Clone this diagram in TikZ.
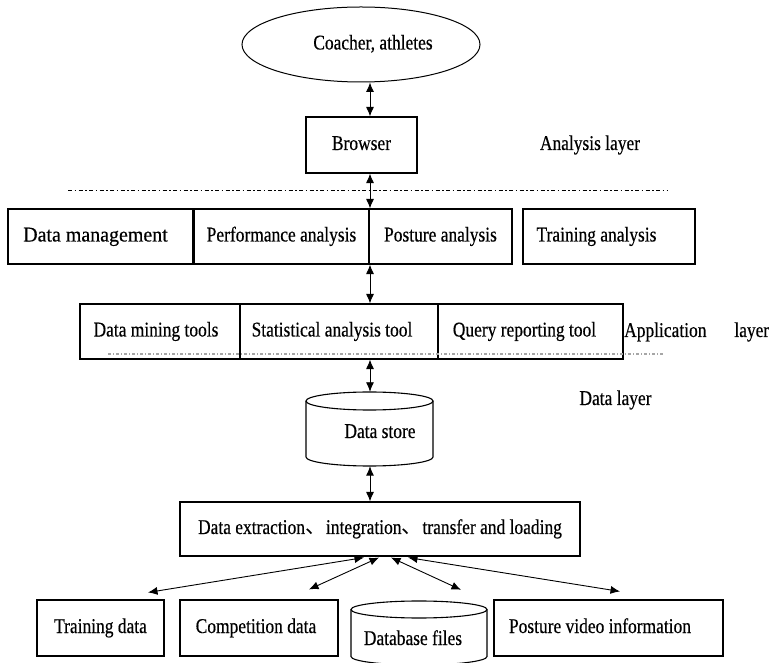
\documentclass[tikz,border=0pt]{standalone}
\usepackage{fontspec}
\setmainfont{Liberation Serif}[FakeStretch=0.83,FakeBold=0.4]
\newfontfamily\cjk{Noto Sans CJK SC}
\newfontfamily\widefont{Liberation Serif}[FakeStretch=0.95,FakeBold=0.4]
\usetikzlibrary{arrows.meta,shapes.geometric}
\newcommand{\drawcyl}[5]{% left right top bottom yradius
  \pgfmathsetmacro\cylcx{(#1+#2)/2}%
  \pgfmathsetmacro\cylrx{(#2-#1)/2}%
  \draw[line width=1.1pt] (\cylcx,#3-#5) ellipse[x radius=\cylrx, y radius=#5];
  \draw[line width=1.1pt] (#1,#3-#5) -- (#1,#4+#5)
    arc[start angle=180, end angle=360, x radius=\cylrx, y radius=#5] -- (#2,#3-#5);
}
\begin{document}
\begin{tikzpicture}[x=1pt,y=1pt,
  font=\fontsize{21}{24}\selectfont,
  box/.style={draw, line width=1.1pt, inner sep=0pt, minimum height=55pt,
              text height=14pt, text depth=4pt},
  link/.style={arrows={Latex[length=9.5pt,width=8pt]-Latex[length=9.5pt,width=8pt]}, line width=0.9pt},
  lbl/.style={inner sep=0pt, text height=14pt, text depth=4pt}]
\clip (0,0) rectangle (769,662);
\fill[white] (0,0) rectangle (769,662);

\coordinate (ax) at (370,0);

% top
\node[ellipse, draw, line width=1pt, minimum width=238pt, minimum height=75pt,
      inner sep=0pt, text height=14pt, text depth=4pt] (coach) at (361,617.5)
      {\hspace*{24pt}Coacher, athletes};
\node[box, minimum width=111pt, minimum height=56pt] (browser) at (361.5,517) {Browser};
\node[lbl] (albl) at (590,517) {Analysis layer};
\draw[link] (coach.south -| ax) -- (browser.north -| ax);

\draw[line width=1pt, dash pattern=on 4pt off 2.5pt on 1.5pt off 2.5pt] (68,471.5) -- (667,471.5);

% analysis row
\node[box, minimum width=185pt] (dm) at (100.5,425.5) {\widefont Data management\hspace*{10pt}};
\node[box, minimum width=175pt] (perf) at (281.5,425.5) {Performance analysis};
\node[box, minimum width=143pt] (post) at (440.5,425.5) {Posture analysis};
\node[box, minimum width=172pt] (tra) at (609,425.5) {Training analysis\hspace*{25pt}};
\draw[link] (browser.south -| ax) -- (post.north -| ax);

% application row
\node[box, minimum width=160pt] (mine) at (160,330.5) {Data mining tools\hspace*{8pt}};
\node[box, minimum width=198pt] (stat) at (339,330.5) {Statistical analysis tool\hspace*{14pt}};
\node[box, minimum width=185pt] (query) at (530.5,330.5) {Query reporting tool\hspace*{12pt}};
\draw[link] (post.south -| ax) -- (stat.north -| ax);
\draw[gray!70, line width=1.3pt, dash pattern=on 3pt off 2pt on 1pt off 2pt] (108,308) -- (664,308);
\node[lbl, anchor=west, text width=145pt, align=left] (applbl) at (624,330) {Application\hfill layer};
\node[lbl] (dlbl) at (615.5,262) {Data layer};

% data store
\drawcyl{306}{433}{270}{196}{9}
\node[inner sep=0pt, minimum width=127pt, minimum height=74pt,
      label={[lbl, xshift=10.5pt, yshift=-4pt]center:Data store}] (ds) at (369.5,233) {};
\draw[link] (stat.south -| ax) -- (ds.north -| ax);

% ETL
\node[box, minimum width=400pt, minimum height=54pt] (etl) at (380,133)
  {Data extraction{\cjk 、}integration{\cjk 、}transfer and loading};
\draw[link] (ds.south -| ax) -- (etl.north -| ax);

% sources
\node[box, minimum width=127pt, minimum height=56pt] (td) at (100.5,34) {Training data};
\node[box, minimum width=158pt, minimum height=56pt] (cd) at (259,34) {Competition data\hspace*{6pt}};
\node[box, minimum width=229pt, minimum height=56pt] (pv) at (608.5,34) {Posture video information\hspace*{17pt}};
\drawcyl{351}{487}{61}{-3}{8.5}
\node[inner sep=0pt, minimum width=136pt, minimum height=64pt,
      label={[lbl, xshift=-6pt, yshift=-7pt]center:Database files}] (db) at (419,29) {};

\draw[link] ([xshift=-16pt,yshift=-1pt]etl.south) -- ([xshift=47.5pt,yshift=7pt]td.north);
\draw[link] ([xshift=-1pt,yshift=-1pt]etl.south) -- ([xshift=50pt,yshift=10pt]cd.north);
\draw[link] ([xshift=11pt,yshift=-1pt]etl.south) -- ([xshift=42pt,yshift=11pt]db.north);
\draw[link] ([xshift=28pt,yshift=-1pt]etl.south) -- ([xshift=11.5pt,yshift=8pt]pv.north);
\end{tikzpicture}
\end{document}
